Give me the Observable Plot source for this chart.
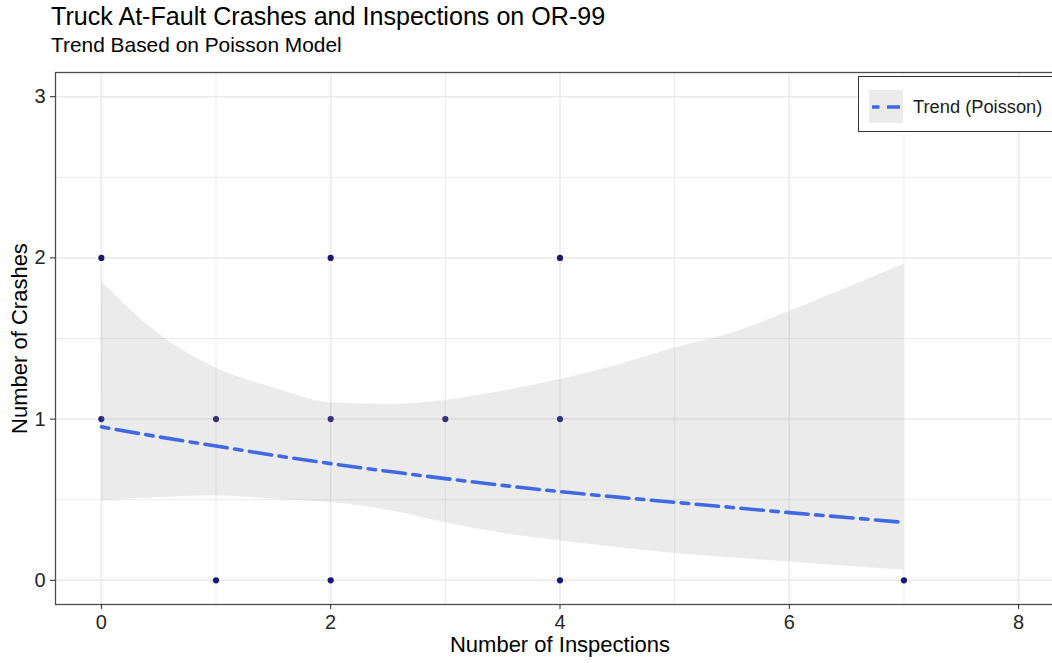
<!DOCTYPE html>
<html>
<head>
<meta charset="utf-8">
<script src="https://cdn.jsdelivr.net/npm/d3@7"></script>
<script src="https://cdn.jsdelivr.net/npm/@observablehq/plot@0.6"></script>
<style>
  html, body { margin: 0; padding: 0; background: #fff; overflow: hidden; }
  #wrap { position: relative; width: 1052px; height: 663px; overflow: hidden; font-family: "Liberation Sans", Arial, sans-serif; }
  #chart { position: absolute; left: 0; top: 0; width: 1064px; height: 663px; }
  #chart svg { max-width: none !important; width: 1064px !important; height: 663px !important; }
  .title { position: absolute; left: 51px; top: 4px; font-size: 25.1px; line-height: 25px; color: #000; white-space: nowrap; }
  .subtitle { position: absolute; left: 51px; top: 35px; font-size: 20.9px; line-height: 20.4px; color: #000; white-space: nowrap; }
  .legend { position: absolute; left: 858px; top: 76px; width: 220px; height: 56px; border: 1px solid #333; background: #fff; box-sizing: border-box; }
  .legend svg { position: absolute; left: 10px; top: 13px; }
  .legend .lab { position: absolute; left: 54px; top: 21px; font-size: 18.3px; line-height: 18.3px; color: #1a1a1a; white-space: nowrap; }
</style>
</head>
<body>
<div id="wrap">
  <div id="chart"></div>
  <div class="title" id="title"></div>
  <div class="subtitle" id="subtitle"></div>
  <div class="legend" id="legend"></div>
</div>
<script>
// ---- data ----
const titleText = "Truck At-Fault Crashes and Inspections on OR-99";
const subtitleText = "Trend Based on Poisson Model";
const xLabel = "Number of Inspections";
const yLabel = "Number of Crashes";
const legendLabel = "Trend (Poisson)";

const inspections = [0, 0, 1, 1, 2, 2, 2, 3, 4, 4, 4, 7];
const crashes     = [2, 1, 1, 0, 2, 1, 0, 1, 2, 1, 0, 0];

const trendX     = [0, 0.5, 1, 1.5, 2, 2.5, 3, 3.5, 4, 4.5, 5, 5.5, 6, 6.5, 7];
const trendFit   = [0.952, 0.890, 0.833, 0.776, 0.724, 0.676, 0.631, 0.589, 0.550, 0.516, 0.484, 0.452, 0.420, 0.390, 0.359];
const trendUpper = [1.853, 1.530, 1.317, 1.194, 1.101, 1.091, 1.116, 1.173, 1.245, 1.334, 1.441, 1.534, 1.668, 1.812, 1.960];
const trendLower = [0.493, 0.513, 0.524, 0.503, 0.482, 0.435, 0.359, 0.292, 0.245, 0.204, 0.166, 0.140, 0.113, 0.087, 0.064];

const xTicks = [0, 2, 4, 6, 8];
const yTicks = [0, 1, 2, 3];
const xMinor = [1, 3, 5, 7];
const yMinor = [0.5, 1.5, 2.5];

// ---- tables ----
const points = inspections.map((x, i) => ({x, y: crashes[i]}));
const trend = trendX.map((x, i) => ({x, fit: trendFit[i], lo: trendLower[i], hi: trendUpper[i]}));

const blue = "#4169E1";
const dash = "7.5,7.5,22.5,7.5";
const grid = "#ebebeb";
const ink = "#262626";

const chart = Plot.plot({
  width: 1064,
  height: 663,
  marginLeft: 55,
  marginRight: 0,
  marginTop: 72,
  marginBottom: 59,
  x: {domain: [-0.4, 8.4]},
  y: {domain: [-0.15, 3.15]},
  style: {fontFamily: "'Liberation Sans', Arial, sans-serif", background: "transparent", overflow: "visible", color: ink, maxWidth: "none"},
  marks: [
    Plot.ruleX(xMinor, {stroke: grid, strokeWidth: 1}),
    Plot.ruleY(yMinor, {stroke: grid, strokeWidth: 1}),
    Plot.ruleX(xTicks, {stroke: grid, strokeWidth: 1.5}),
    Plot.ruleY(yTicks, {stroke: grid, strokeWidth: 1.5}),
    Plot.dot(points, {x: "x", y: "y", r: 3.1, fill: "#191970"}),
    Plot.areaY(trend, {x: "x", y1: "lo", y2: "hi", fill: "#999999", fillOpacity: 0.2, curve: "monotone-x"}),
    Plot.line(trend, {x: "x", y: "fit", stroke: blue, strokeWidth: 3.6, strokeDasharray: dash, curve: "monotone-x"}),
    Plot.frame({stroke: "#4d4d4d", strokeWidth: 1.3}),
    Plot.axisX({ticks: xTicks, tickFormat: d3.format("d"), tickSize: 5, tickPadding: 5, fontSize: 20, label: null, color: ink}),
    Plot.axisY({ticks: yTicks, tickFormat: d3.format("d"), tickSize: 5, tickPadding: 5, fontSize: 20, label: null, color: ink}),
    Plot.text([xLabel], {frameAnchor: "bottom", textAnchor: "middle", dy: 47, lineAnchor: "bottom", fontSize: 22, fill: "#000"}),
    Plot.text([yLabel], {frameAnchor: "left", textAnchor: "middle", rotate: -90, dx: -29, lineAnchor: "bottom", fontSize: 22, fill: "#000"})
  ]
});
document.getElementById("chart").appendChild(chart);
document.getElementById("title").textContent = titleText;
document.getElementById("subtitle").textContent = subtitleText;

// legend key
const leg = document.getElementById("legend");
const ns = "http://www.w3.org/2000/svg";
const key = document.createElementNS(ns, "svg");
key.setAttribute("width", 34);
key.setAttribute("height", 33);
const bg = document.createElementNS(ns, "rect");
bg.setAttribute("x", 0); bg.setAttribute("y", 0);
bg.setAttribute("width", 34); bg.setAttribute("height", 33);
bg.setAttribute("fill", "#999999"); bg.setAttribute("fill-opacity", 0.2);
key.appendChild(bg);
const ln = document.createElementNS(ns, "line");
ln.setAttribute("x1", 3); ln.setAttribute("x2", 31);
ln.setAttribute("y1", 17); ln.setAttribute("y2", 17);
ln.setAttribute("stroke", blue); ln.setAttribute("stroke-width", 3.5);
ln.setAttribute("stroke-dasharray", dash);
key.appendChild(ln);
leg.appendChild(key);
const lab = document.createElement("div");
lab.className = "lab";
lab.textContent = legendLabel;
leg.appendChild(lab);
</script>
</body>
</html>
